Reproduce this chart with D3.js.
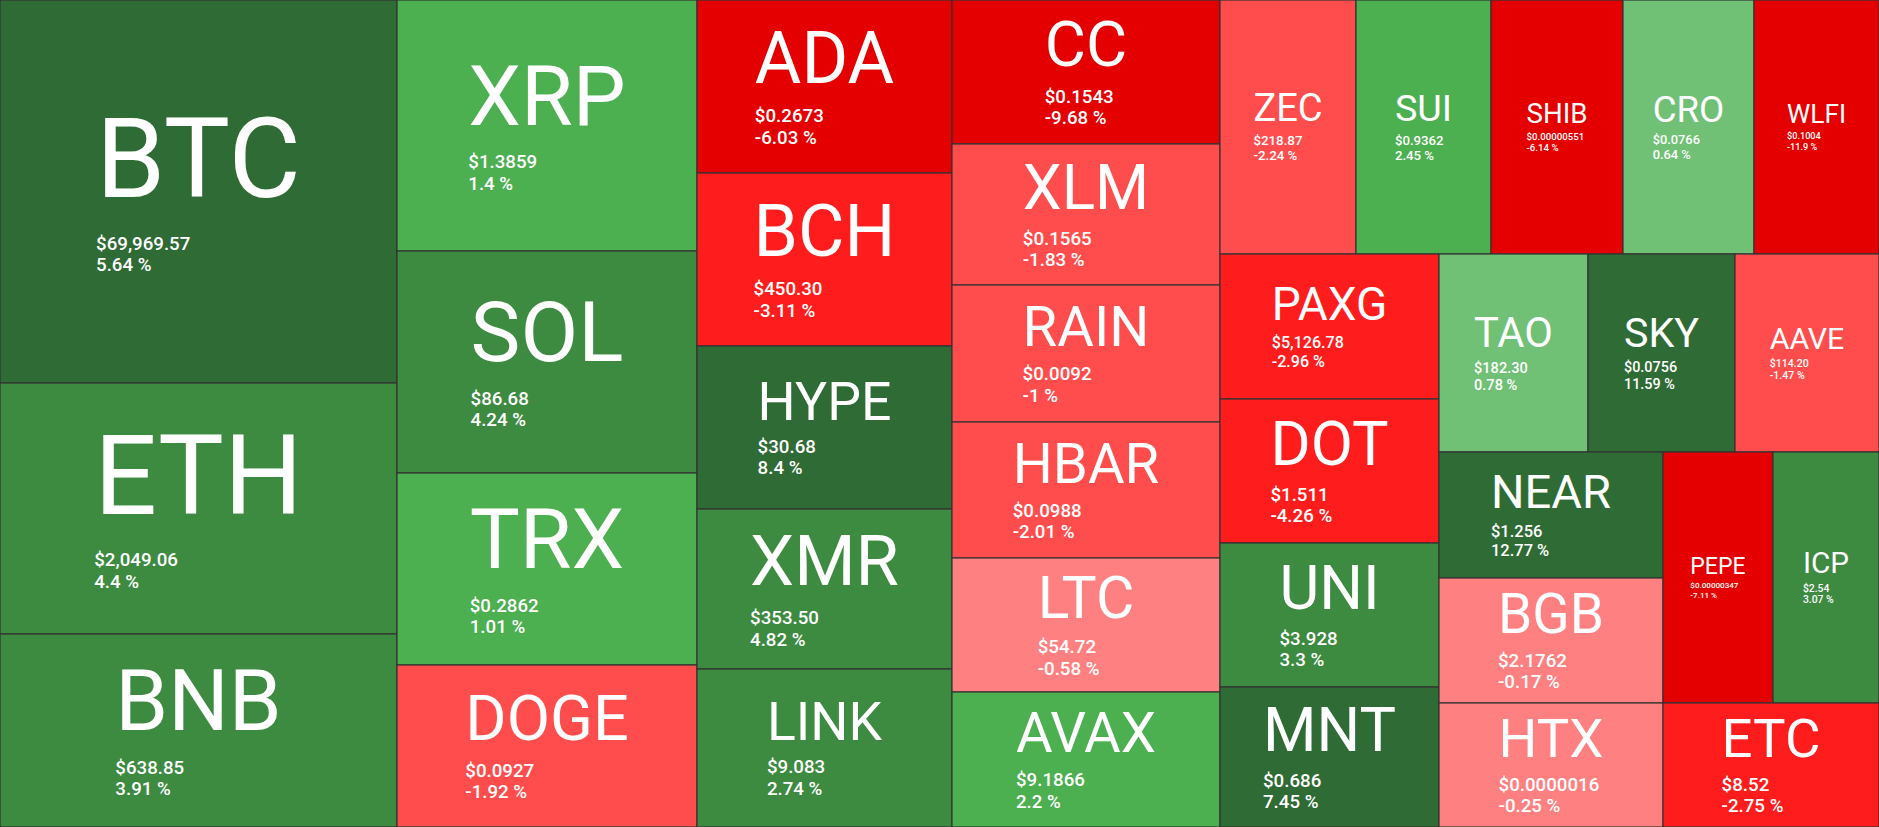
<!DOCTYPE html>
<html>
<head>
<meta charset="utf-8">
<script src="https://cdn.jsdelivr.net/npm/d3@7"></script>
<style>
    html, body { margin: 0; padding: 0; background: #fff; overflow: hidden; }
    #heatmap { width: 1879px; height: 827px; }
    text { font-family: Roboto, "Noto Sans", sans-serif; fill: #fff; }
    text.sub { font-weight: 500; }
</style>
</head>
<body>
<div id="heatmap"></div>
<script>
// coins in the order the heatmap lays them out
var symbols = ["BTC", "ETH", "BNB", "XRP", "SOL", "TRX", "DOGE", "ADA", "BCH", "HYPE", "XMR", "LINK",
    "CC", "XLM", "RAIN", "HBAR", "LTC", "AVAX", "ZEC", "SUI", "SHIB", "CRO", "WLFI", "PAXG",
    "DOT", "UNI", "MNT", "TAO", "SKY", "AAVE", "NEAR", "BGB", "HTX", "PEPE", "ICP", "ETC"];

var prices = ["$69,969.57", "$2,049.06", "$638.85", "$1.3859", "$86.68", "$0.2862", "$0.0927", "$0.2673",
    "$450.30", "$30.68", "$353.50", "$9.083", "$0.1543", "$0.1565", "$0.0092", "$0.0988", "$54.72",
    "$9.1866", "$218.87", "$0.9362", "$0.00000551", "$0.0766", "$0.1004", "$5,126.78", "$1.511",
    "$3.928", "$0.686", "$182.30", "$0.0756", "$114.20", "$1.256", "$2.1762", "$0.0000016",
    "$0.00000347", "$2.54", "$8.52"];

// 24h change in %
var changes = [5.64, 4.4, 3.91, 1.4, 4.24, 1.01, -1.92, -6.03, -3.11, 8.4, 4.82, 2.74,
    -9.68, -1.83, -1, -2.01, -0.58, 2.2, -2.24, 2.45, -6.14, 0.64, -11.9, -2.96,
    -4.26, 3.3, 7.45, 0.78, 11.59, -1.47, 12.77, -0.17, -0.25, -7.11, 3.07, -2.75];

// tile weight
var weights = [152051, 99647, 76621, 75551, 66822, 57792, 48762, 44115, 44100, 41565, 40800, 40290,
    38448, 37914, 36579, 36312, 36100, 36050, 34661, 34155, 33649, 33143, 31800, 31755,
    31700, 31536, 30660, 29502, 29106, 28512, 28448, 28000, 27776, 27720, 26712, 26700];

var width = document.getElementById('heatmap').clientWidth;
var height = document.getElementById('heatmap').clientHeight;

var colour_scale = d3.scaleThreshold()
    .domain([-5, -2.5, -0.9, 0, 1, 2.5, 5])
    .range(["#e40000", "#ff1c1c", "#ff4d4d", "#ff8080", "#70c176", "#4caf50", "#3d8b40", "#2f6b34"]);

var svg = d3.select('#heatmap')
    .append('svg')
    .attr('width', width)
    .attr('height', height);

var coins = symbols.map(function (s, i) {
    return { symbol: s, price: prices[i], change: changes[i], weight: weights[i] };
});

var root = d3.hierarchy({ children: coins })
    .sum(function (d) { return d.weight || 0; });

d3.treemap()
    .tile(d3.treemapSquarify)
    .size([width, height])
    .round(true)(root);

var cell = svg.selectAll('g.cell')
    .data(root.leaves())
    .enter()
    .append('g')
    .attr('class', 'cell')
    .attr('transform', function (d) { return 'translate(' + d.x0 + ',' + d.y0 + ')'; });

cell.append('rect')
    .attr('width', function (d) { return d.x1 - d.x0; })
    .attr('height', function (d) { return d.y1 - d.y0; })
    .attr('fill', function (d) { return colour_scale(d.data.change); })
    .attr('stroke', '#333')
    .attr('stroke-width', 1.2);

// labels: big ticker centred, price + change left aligned under it
cell.each(function (d) {
    var w = d.x1 - d.x0;
    var h = d.y1 - d.y0;
    var fs = Math.min(0.84 * w / d.data.symbol.length, 0.44 * h);
    var sub = Math.min(18.7, 0.35 * fs);
    var blockH = 1.146 * fs + 2.13 * sub;
    var base = h / 2 - blockH / 2 + 0.8 * fs;
    var g = d3.select(this);

    var sym = g.append('text')
        .attr('x', w / 2)
        .attr('y', base)
        .attr('text-anchor', 'middle')
        .style('font-size', fs + 'px')
        .text(d.data.symbol);

    var left = w / 2 - sym.node().getComputedTextLength() / 2;
    var y1 = base + 0.346 * fs + 0.78 * sub;

    g.append('text')
        .attr('class', 'sub')
        .attr('x', left)
        .attr('y', y1)
        .style('font-size', sub + 'px')
        .text(d.data.price);

    g.append('text')
        .attr('class', 'sub')
        .attr('x', left)
        .attr('y', y1 + 1.15 * sub)
        .style('font-size', sub + 'px')
        .text(d.data.change + ' %');
});
</script>
</body>
</html>
